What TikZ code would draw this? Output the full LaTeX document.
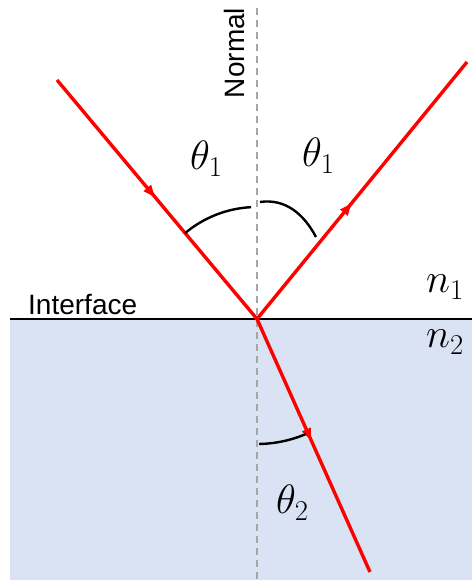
\RequirePackage{fix-cm}
\documentclass[tikz,border=0pt]{standalone}
\usepackage{fontspec}
\setsansfont{Liberation Sans}
\usetikzlibrary{arrows.meta,decorations.markings,calc}
\definecolor{water}{RGB}{218,227,243}
\begin{document}
\begin{tikzpicture}[x=1pt,y=1pt,
  ray/.style={red,line width=3.4pt},
  midarrow/.style={postaction={decorate,decoration={markings,
      mark=at position #1 with {\arrow{Triangle[length=12pt,width=9pt]}}}}},
  anglemark/.style={line width=2.4pt},
  lbl/.style={font=\fontsize{41}{43}\selectfont,inner sep=0pt,anchor=base west},
  word/.style={font=\sffamily\fontsize{28}{30}\selectfont,inner sep=0pt}]
\useasboundingbox (0,0) rectangle (472,580);
\fill[water] (10,0) rectangle (472,261);
\coordinate (O) at (257,261);
\coordinate (A) at (57,500);
\coordinate (B) at (467,518);
\coordinate (C) at (370,8);
\coordinate (Ntop) at (257,572);
\coordinate (Nbot) at (257,0);
\coordinate (Ileft) at (10,261);
\coordinate (Iright) at (472,261);
\draw[gray!70,line width=1.8pt,dash pattern=on 7pt off 5pt] (Ntop) -- (Nbot);
\draw[line width=1.8pt] (Ileft) -- (Iright);
\draw[ray,midarrow=0.49] (A) -- (O);
\draw[ray,midarrow=0.45] (O) -- (B);
\draw[ray,midarrow=0.48] (O) -- (C);
\draw[anglemark] ($(O)+(130:112)$) arc (130:93:112);
\draw[anglemark] (260,378) to[out=8,in=118] (316,343);
\draw[anglemark] ($(O)+(-89:125)$) arc (-89:-67:125);
\node[lbl] (t1l) at (190,410) {$\theta_1$};
\node[lbl] (t1r) at (302,413) {$\theta_1$};
\node[lbl] (t2) at (276,66) {$\theta_2$};
\node[lbl] (n1) at (426,287) {$n_1$};
\node[lbl] (n2) at (426,232) {$n_2$};
\node[word,rotate=90] (normal) at (234.5,527) {Normal};
\node[word,anchor=base west] (iface) at (28,265) {Interface};
\end{tikzpicture}
\end{document}
